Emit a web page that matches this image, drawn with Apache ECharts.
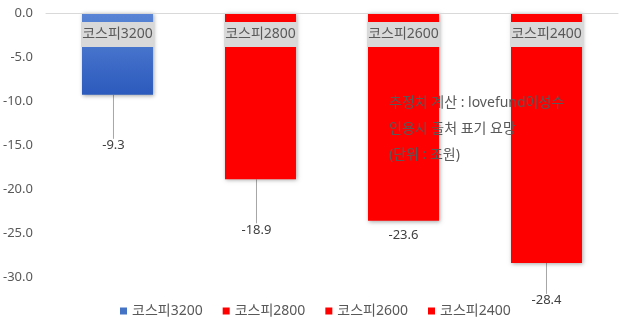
<!DOCTYPE html>
<html>
<head>
<meta charset="utf-8">
<script src="https://cdn.jsdelivr.net/npm/echarts@6/dist/echarts.min.js"></script>
<style>html,body{margin:0;padding:0;background:#fff}#c{width:619px;height:320px}</style>
</head>
<body>
<div id="c"></div>
<script>
const categories = ['코스피3200', '코스피2800', '코스피2600', '코스피2400'];
const values = [-9.3, -18.9, -23.6, -28.4];
const yTicks = { min: -30, max: 0, interval: 5 };
const notes = ['추정치 계산 : lovefund이성수', '인용시 출처 표기 요망', '(단위 : 조원)'];

const FONT = "'Noto Sans', 'Noto Sans CJK KR', sans-serif";
const colors = [
  new echarts.graphic.LinearGradient(0, 0, 0, 1, [
    { offset: 0, color: '#5a85d6' },
    { offset: 1, color: '#2b5abd' }
  ]),
  '#ff0000', '#ff0000', '#ff0000'
];
const legendColors = ['#4472c4', '#ff0000', '#ff0000', '#ff0000'];
// label displacement (px) from default bottom position, per bar
const labelShift = [[-4, 39], [-4, 39], [0, 3], [0, 26]];

const series = categories.map((name, i) => ({
  name: name,
  type: 'bar',
  barWidth: 71,
  barGap: '-100%',
  data: categories.map((c, j) => j === i ? values[i] : '-'),
  itemStyle: {
    color: colors[i],
    shadowBlur: 4,
    shadowColor: 'rgba(0,0,0,0.35)',
    shadowOffsetX: 1,
    shadowOffsetY: 1
  },
  label: {
    show: true,
    position: 'bottom',
    distance: 5,
    color: '#404040',
    fontSize: 13,
    fontFamily: FONT,
    formatter: p => p.value.toFixed(1)
  },
  labelLine: { show: labelShift[i][1] > 10, lineStyle: { color: '#a6a6a6', width: 1 } },
  labelLayout: p => ({ dx: labelShift[p.seriesIndex][0], dy: labelShift[p.seriesIndex][1] })
}));

const chart = echarts.init(document.getElementById('c'));
chart.setOption({
  animation: false,
  textStyle: { fontFamily: FONT },
  grid: { left: 44, right: 1, top: 13, bottom: 43 },
  legend: {
    data: categories.map((n, i) => ({ name: n, itemStyle: { color: legendColors[i] } })),
    top: 299,
    left: 115,
    icon: 'rect',
    itemWidth: 7,
    itemHeight: 7,
    itemGap: 20,
    textStyle: { color: '#595959', fontSize: 14, fontFamily: FONT }
  },
  xAxis: {
    type: 'category',
    data: categories,
    position: 'top',
    z: 5,
    axisLine: { show: true, lineStyle: { color: '#d9d9d9' } },
    axisTick: { show: false },
    axisLabel: {
      inside: true,
      margin: 9,
      color: '#595959',
      fontSize: 14,
      fontFamily: FONT,
      backgroundColor: '#d9d9d9',
      width: 73,
      align: 'center',
      lineHeight: 25,
      height: 25
    }
  },
  yAxis: {
    type: 'value',
    min: yTicks.min,
    max: yTicks.max,
    interval: yTicks.interval,
    axisLine: { show: false },
    axisTick: { show: false },
    splitLine: { show: false },
    axisLabel: {
      color: '#595959',
      fontSize: 13,
      fontFamily: FONT,
      margin: 13,
      formatter: v => v.toFixed(1)
    }
  },
  graphic: notes.map((t, i) => ({
    type: 'text',
    left: 389,
    top: 96 + i * 26,
    zlevel: 2,
    z: 100,
    style: { text: t, fill: '#595959', fontSize: 14, fontFamily: FONT }
  })),
  series: series
});
</script>
</body>
</html>
